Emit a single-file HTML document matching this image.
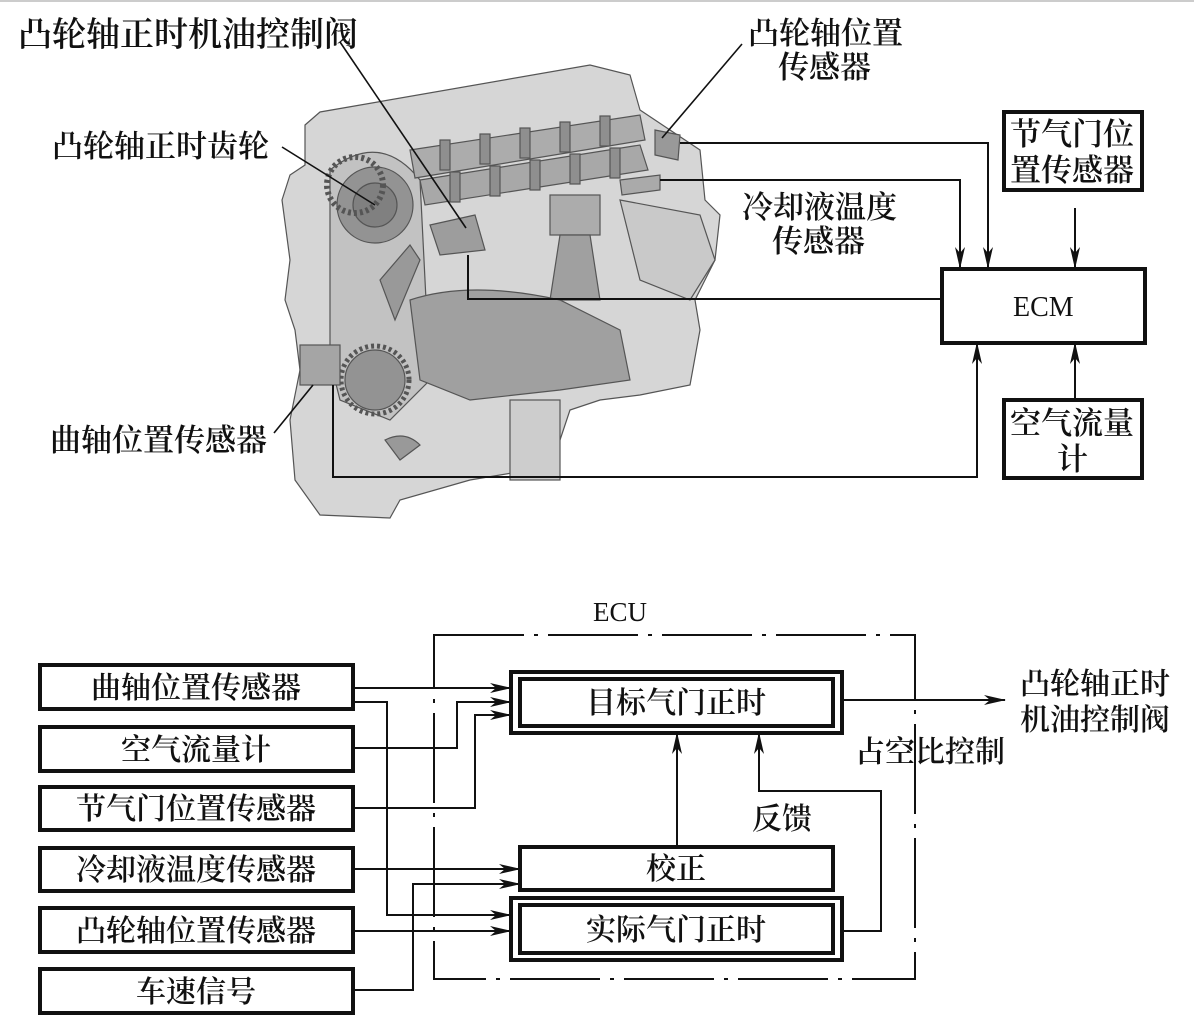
<!DOCTYPE html>
<html><head><meta charset="utf-8"><style>
html,body{margin:0;padding:0;background:#fff;}
svg{display:block;}
text{font-family:"Liberation Serif","Noto Serif CJK SC",serif;fill:#111;font-weight:600;}
text.n{font-weight:400;}
</style></head><body>
<svg width="1194" height="1029" viewBox="0 0 1194 1029" xmlns="http://www.w3.org/2000/svg">
<defs>
<marker id="a" markerWidth="22" markerHeight="10" refX="21" refY="5" orient="auto" markerUnits="userSpaceOnUse">
<path d="M0,0 L22,5 L0,10 L6,5 Z" fill="#111"/></marker>
</defs>
<rect x="0" y="0" width="1194" height="1029" fill="#fff"/>
<line x1="0" y1="1" x2="1194" y2="1" stroke="#ccc" stroke-width="2"/>
<g stroke="#555" stroke-width="1.2">
<path d="M305,125 L320,112 L590,65 L630,75 L640,110 L700,150 L705,200 L720,215 L715,260 L695,300 L700,330 L690,385 L640,395 L600,400 L570,410 L560,440 L530,470 L470,480 L400,500 L390,518 L320,515 L295,480 L290,420 L300,370 L295,330 L285,300 L290,260 L282,200 L290,175 L305,165 Z" fill="#d6d6d6"/>
<path d="M330,170 Q380,130 420,180 L430,380 L390,420 L340,400 L330,360 Z" fill="#c2c2c2"/>
<circle cx="375" cy="205" r="38" fill="#939393"/>
<circle cx="375" cy="205" r="22" fill="#808080"/>
<circle cx="355" cy="185" r="28" fill="none" stroke="#555" stroke-width="6" stroke-dasharray="3 3"/>
<path d="M410,150 L640,115 L645,140 L415,178 Z" fill="#acacac"/>
<path d="M420,180 L640,145 L648,170 L425,205 Z" fill="#a8a8a8"/>
<g fill="#8f8f8f"><rect x="440" y="140" width="10" height="30"/><rect x="480" y="134" width="10" height="30"/><rect x="520" y="128" width="10" height="30"/><rect x="560" y="122" width="10" height="30"/><rect x="600" y="116" width="10" height="30"/>
<rect x="450" y="172" width="10" height="30"/><rect x="490" y="166" width="10" height="30"/><rect x="530" y="160" width="10" height="30"/><rect x="570" y="154" width="10" height="30"/><rect x="610" y="148" width="10" height="30"/></g>
<path d="M430,225 L475,215 L485,250 L440,255 Z" fill="#9d9d9d"/>
<rect x="550" y="195" width="50" height="40" fill="#acacac"/>
<path d="M560,235 L590,235 L600,300 L550,300 Z" fill="#a0a0a0"/>
<path d="M410,300 Q470,280 560,300 L620,330 L630,380 L560,390 L470,400 L420,380 Z" fill="#a0a0a0"/>
<circle cx="375" cy="380" r="30" fill="#939393"/>
<circle cx="375" cy="380" r="34" fill="none" stroke="#555" stroke-width="5" stroke-dasharray="3 3"/>
<path d="M380,280 L410,245 L420,260 L395,320 Z" fill="#999"/>
<rect x="300" y="345" width="40" height="40" fill="#a5a5a5"/>
<path d="M655,130 L680,135 L678,160 L655,155 Z" fill="#999"/>
<path d="M620,180 L660,175 L660,190 L622,195 Z" fill="#aaa"/>
<path d="M385,440 Q405,430 420,445 L400,460 Z" fill="#999"/>
<rect x="510" y="400" width="50" height="80" fill="#cdcdcd"/>
<path d="M620,200 L700,215 L715,260 L690,300 L640,280 Z" fill="#c9c9c9"/>
</g>
<g font-size="31">
<text x="18" y="46" font-size="34">凸轮轴正时机油控制阀</text>
<text x="748" y="44">凸轮轴位置</text>
<text x="778" y="78">传感器</text>
<text x="52" y="157">凸轮轴正时齿轮</text>
<text x="742" y="218">冷却液温度</text>
<text x="772" y="252">传感器</text>
<text x="50" y="451">曲轴位置传感器</text>
</g>
<g stroke="#111" stroke-width="1.6" fill="none">
<line x1="340" y1="42" x2="466" y2="228"/>
<line x1="742" y1="44" x2="662" y2="138"/>
<line x1="282" y1="147" x2="375" y2="205"/>
<line x1="274" y1="433" x2="313" y2="385"/>
</g>
<g stroke="#111" stroke-width="2" fill="none">
<polyline points="680,143 988,143 988,268" marker-end="url(#a)"/>
<polyline points="660,180 960,180 960,268" marker-end="url(#a)"/>
<line x1="1075" y1="208" x2="1075" y2="268" marker-end="url(#a)"/>
<polyline points="468,255 468,299 942,299"/>
<polyline points="333,385 333,477 977,477 977,343" marker-end="url(#a)"/>
<line x1="1075" y1="400" x2="1075" y2="343" marker-end="url(#a)"/>
</g>
<g stroke="#111" stroke-width="4" fill="#fff">
<rect x="942" y="269" width="203" height="74"/>
<rect x="1004" y="112" width="138" height="78"/>
<rect x="1004" y="400" width="138" height="78"/>
</g>
<text class="n" x="1013" y="316" font-size="28">ECM</text>
<g font-size="31">
<text x="1010" y="145">节气门位</text>
<text x="1010" y="181">置传感器</text>
<text x="1010" y="434">空气流量</text>
<text x="1057" y="470">计</text>
</g>
<text class="n" x="593" y="621" font-size="27">ECU</text>
<rect x="434" y="635" width="481" height="344" fill="none" stroke="#111" stroke-width="2" stroke-dasharray="90 10 4 10"/>
<g stroke="#111" stroke-width="4" fill="#fff">
<rect x="40" y="665" width="313" height="44"/>
<rect x="40" y="727" width="313" height="44"/>
<rect x="40" y="787" width="313" height="43"/>
<rect x="40" y="848" width="313" height="43"/>
<rect x="40" y="908" width="313" height="44"/>
<rect x="40" y="969" width="313" height="44"/>
<rect x="511" y="672" width="331" height="61"/>
<rect x="520" y="679" width="313" height="47"/>
<rect x="520" y="847" width="313" height="43"/>
<rect x="511" y="898" width="331" height="62"/>
<rect x="520" y="905" width="313" height="48"/>
</g>
<g font-size="30" text-anchor="middle">
<text x="196" y="698">曲轴位置传感器</text>
<text x="196" y="760">空气流量计</text>
<text x="196" y="819">节气门位置传感器</text>
<text x="196" y="880">冷却液温度传感器</text>
<text x="196" y="941">凸轮轴位置传感器</text>
<text x="196" y="1002">车速信号</text>
<text x="676" y="713">目标气门正时</text>
<text x="676" y="879">校正</text>
<text x="676" y="940">实际气门正时</text>
</g>
<g font-size="30">
<text x="1020" y="694">凸轮轴正时</text>
<text x="1020" y="730">机油控制阀</text>
<text x="855" y="762">占空比控制</text>
<text x="752" y="829">反馈</text>
</g>
<g stroke="#111" stroke-width="2" fill="none">
<line x1="353" y1="688" x2="511" y2="688" marker-end="url(#a)"/>
<polyline points="353,702 387,702 387,915 511,915" marker-end="url(#a)"/>
<polyline points="353,748 457,748 457,702 511,702" marker-end="url(#a)"/>
<polyline points="353,808 475,808 475,715 511,715" marker-end="url(#a)"/>
<line x1="353" y1="869" x2="520" y2="869" marker-end="url(#a)"/>
<line x1="353" y1="931" x2="511" y2="931" marker-end="url(#a)"/>
<polyline points="353,990 413,990 413,884 520,884" marker-end="url(#a)"/>
<line x1="677" y1="847" x2="677" y2="733" marker-end="url(#a)"/>
<polyline points="842,931 881,931 881,791 759,791 759,733" marker-end="url(#a)"/>
<line x1="842" y1="700" x2="1005" y2="700" marker-end="url(#a)"/>
</g>
</svg>
</body></html>
